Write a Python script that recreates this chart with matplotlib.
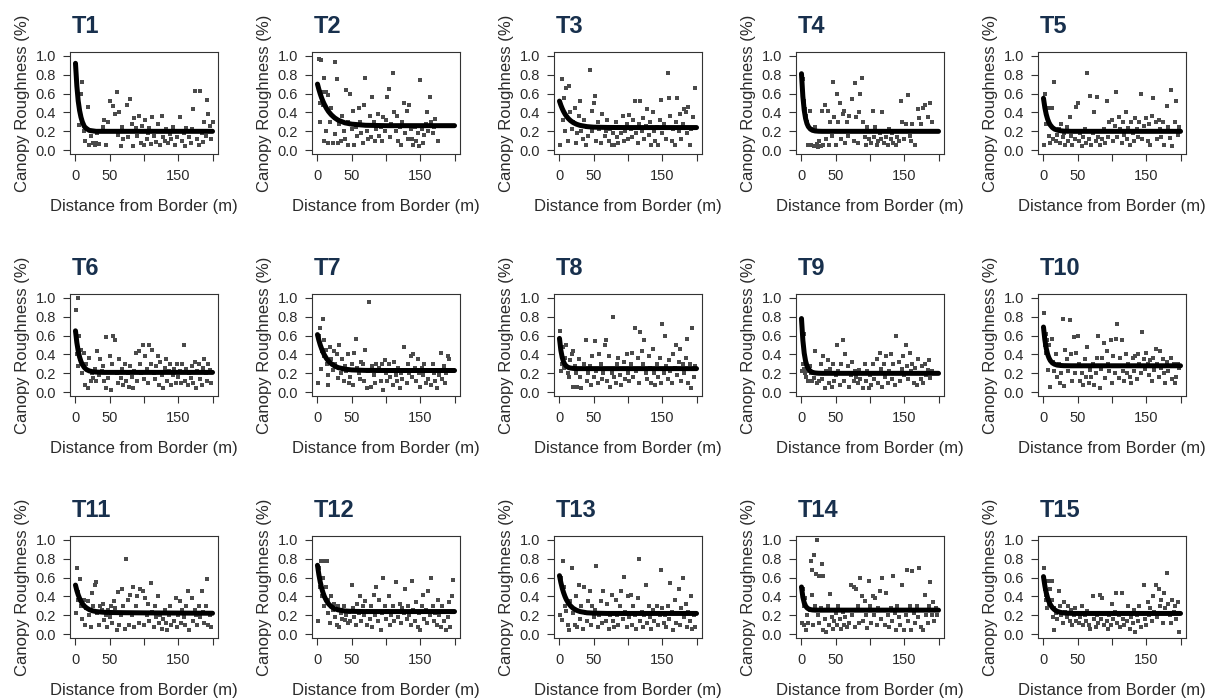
import numpy as np
import matplotlib
matplotlib.use("Agg")
import matplotlib.pyplot as plt

plt.rcParams['font.family'] = ['Liberation Sans', 'DejaVu Sans']

curve_x = [0, 2, 4, 6, 8, 10, 13, 16, 20, 25, 30, 40, 50, 70, 100, 200]

c1 = [0.92, 0.68, 0.52, 0.42, 0.35, 0.30, 0.25, 0.23, 0.21, 0.205, 0.20, 0.20, 0.20, 0.20, 0.20, 0.20]
c2 = [0.70, 0.645, 0.597, 0.555, 0.518, 0.486, 0.445, 0.411, 0.376, 0.343, 0.319, 0.290, 0.276, 0.264, 0.26, 0.26]
c3 = [0.52, 0.477, 0.441, 0.410, 0.384, 0.362, 0.335, 0.314, 0.293, 0.275, 0.263, 0.250, 0.244, 0.241, 0.24, 0.24]
c4 = [0.81, 0.57, 0.424, 0.336, 0.282, 0.25, 0.224, 0.211, 0.204, 0.201, 0.20, 0.20, 0.20, 0.20, 0.20, 0.20]
c5 = [0.55, 0.451, 0.380, 0.329, 0.292, 0.266, 0.240, 0.224, 0.213, 0.206, 0.202, 0.20, 0.20, 0.20, 0.20, 0.20]
c6 = [0.65, 0.525, 0.436, 0.372, 0.326, 0.293, 0.261, 0.240, 0.226, 0.217, 0.213, 0.21, 0.21, 0.21, 0.21, 0.21]
c7 = [0.61, 0.551, 0.502, 0.461, 0.425, 0.395, 0.358, 0.330, 0.302, 0.278, 0.261, 0.244, 0.236, 0.231, 0.23, 0.23]
c8 = [0.57, 0.444, 0.368, 0.321, 0.293, 0.276, 0.262, 0.256, 0.252, 0.25, 0.25, 0.25, 0.25, 0.25, 0.25, 0.25]
c9 = [0.78, 0.552, 0.413, 0.329, 0.278, 0.248, 0.223, 0.210, 0.204, 0.201, 0.20, 0.20, 0.20, 0.20, 0.20, 0.20]
c10 = [0.69, 0.555, 0.464, 0.403, 0.363, 0.335, 0.310, 0.297, 0.287, 0.283, 0.281, 0.28, 0.28, 0.28, 0.28, 0.28]
c11 = [0.52, 0.462, 0.416, 0.379, 0.349, 0.325, 0.298, 0.279, 0.261, 0.248, 0.240, 0.233, 0.230, 0.228, 0.226, 0.222]
c12 = [0.73, 0.632, 0.554, 0.491, 0.441, 0.401, 0.356, 0.323, 0.293, 0.270, 0.258, 0.246, 0.242, 0.24, 0.24, 0.24]
c13 = [0.62, 0.548, 0.488, 0.440, 0.400, 0.367, 0.329, 0.301, 0.274, 0.253, 0.240, 0.227, 0.223, 0.22, 0.22, 0.22]
c14 = [0.50, 0.393, 0.333, 0.299, 0.280, 0.269, 0.261, 0.257, 0.255, 0.255, 0.255, 0.255, 0.255, 0.255, 0.255, 0.255]
c15 = [0.61, 0.513, 0.440, 0.385, 0.344, 0.314, 0.281, 0.260, 0.242, 0.231, 0.225, 0.221, 0.22, 0.22, 0.22, 0.22]

# scatter points (distance m, roughness) per transect
t1 = [(3, 0.53), (5, 0.27), (8, 0.6), (10, 0.72), (12, 0.2), (14, 0.1), (18, 0.46), (20, 0.05), (22, 0.15), (25, 0.08),
      (28, 0.05), (30, 0.08), (32, 0.18), (35, 0.07), (40, 0.25), (42, 0.32), (45, 0.06), (48, 0.3), (50, 0.52), (52, 0.2),
      (55, 0.47), (58, 0.38), (60, 0.62), (62, 0.16), (64, 0.4), (66, 0.04), (68, 0.25), (70, 0.12), (72, 0.2), (75, 0.48),
      (77, 0.14), (80, 0.54), (82, 0.28), (84, 0.04), (86, 0.34), (88, 0.23), (90, 0.15), (92, 0.36), (95, 0.08), (97, 0.26),
      (100, 0.05), (102, 0.32), (104, 0.12), (106, 0.18), (108, 0.24), (110, 0.07), (112, 0.35), (115, 0.15), (118, 0.09),
      (120, 0.28), (122, 0.2), (124, 0.05), (126, 0.36), (128, 0.14), (130, 0.1), (132, 0.22), (135, 0.08), (138, 0.17),
      (140, 0.12), (142, 0.25), (145, 0.06), (148, 0.14), (150, 0.2), (152, 0.35), (155, 0.1), (158, 0.18), (160, 0.04),
      (162, 0.24), (165, 0.14), (168, 0.08), (170, 0.22), (172, 0.44), (175, 0.63), (178, 0.12), (180, 0.05), (182, 0.63),
      (184, 0.18), (186, 0.09), (188, 0.3), (190, 0.15), (192, 0.53), (194, 0.38), (196, 0.26), (198, 0.12), (200, 0.3)]
t2 = [(2, 0.97), (5, 0.95), (3, 0.5), (4, 0.3), (6, 0.62), (8, 0.48), (9, 0.76), (10, 0.1), (12, 0.62), (13, 0.2),
      (15, 0.58), (16, 0.08), (18, 0.3), (20, 0.45), (22, 0.08), (25, 0.93), (26, 0.17), (28, 0.75), (30, 0.08), (32, 0.28),
      (34, 0.1), (36, 0.36), (38, 0.2), (40, 0.12), (42, 0.64), (44, 0.3), (45, 0.05), (48, 0.6), (50, 0.22), (52, 0.42),
      (54, 0.05), (56, 0.25), (58, 0.15), (60, 0.45), (62, 0.3), (64, 0.18), (66, 0.08), (68, 0.48), (70, 0.76), (72, 0.2),
      (74, 0.12), (76, 0.36), (78, 0.14), (80, 0.56), (82, 0.3), (84, 0.1), (86, 0.22), (88, 0.38), (90, 0.15), (92, 0.25),
      (94, 0.1), (96, 0.35), (98, 0.2), (100, 0.32), (102, 0.56), (104, 0.65), (106, 0.14), (108, 0.28), (110, 0.82),
      (112, 0.4), (114, 0.2), (116, 0.36), (118, 0.1), (120, 0.25), (122, 0.06), (124, 0.3), (126, 0.5), (128, 0.18),
      (130, 0.42), (132, 0.12), (134, 0.48), (136, 0.22), (138, 0.12), (140, 0.05), (142, 0.25), (144, 0.1), (146, 0.18),
      (148, 0.04), (150, 0.74), (152, 0.22), (154, 0.08), (156, 0.16), (158, 0.28), (160, 0.4), (162, 0.2), (164, 0.56),
      (166, 0.3), (168, 0.18), (170, 0.25), (172, 0.33), (176, 0.1)]
t3 = [(1, 0.06), (3, 0.75), (5, 0.32), (6, 0.55), (8, 0.2), (10, 0.66), (12, 0.1), (14, 0.68), (16, 0.4), (18, 0.22),
      (20, 0.3), (22, 0.45), (24, 0.08), (26, 0.18), (28, 0.36), (30, 0.52), (32, 0.2), (34, 0.12), (36, 0.32), (38, 0.05),
      (40, 0.25), (42, 0.15), (45, 0.85), (47, 0.42), (48, 0.2), (50, 0.5), (52, 0.57), (54, 0.1), (56, 0.3), (58, 0.22),
      (60, 0.08), (62, 0.38), (64, 0.25), (66, 0.15), (68, 0.2), (70, 0.32), (72, 0.1), (74, 0.22), (76, 0.05), (78, 0.18),
      (80, 0.06), (82, 0.3), (84, 0.14), (86, 0.08), (88, 0.24), (90, 0.18), (92, 0.36), (94, 0.1), (96, 0.2), (98, 0.28),
      (100, 0.12), (102, 0.37), (104, 0.22), (106, 0.14), (108, 0.32), (110, 0.52), (112, 0.18), (114, 0.08), (116, 0.28),
      (118, 0.52), (120, 0.2), (122, 0.34), (124, 0.12), (126, 0.26), (128, 0.44), (130, 0.16), (132, 0.3), (134, 0.06),
      (136, 0.4), (138, 0.2), (140, 0.1), (142, 0.25), (144, 0.05), (146, 0.32), (148, 0.53), (150, 0.18), (152, 0.28),
      (155, 0.12), (158, 0.82), (160, 0.55), (162, 0.36), (164, 0.1), (166, 0.22), (168, 0.06), (170, 0.3), (172, 0.55),
      (174, 0.2), (176, 0.38), (178, 0.12), (180, 0.28), (182, 0.44), (184, 0.4), (186, 0.18), (188, 0.46), (190, 0.06),
      (192, 0.22), (195, 0.35), (198, 0.66)]
t4 = [(2, 0.75), (3, 0.52), (5, 0.44), (6, 0.36), (8, 0.3), (10, 0.05), (12, 0.42), (14, 0.06), (15, 0.22), (18, 0.04),
      (20, 0.25), (22, 0.07), (24, 0.03), (26, 0.1), (28, 0.04), (30, 0.42), (32, 0.06), (34, 0.48), (36, 0.12), (38, 0.42),
      (40, 0.05), (42, 0.3), (44, 0.15), (46, 0.72), (48, 0.35), (50, 0.05), (52, 0.6), (54, 0.3), (56, 0.5), (58, 0.12),
      (60, 0.38), (62, 0.42), (64, 0.08), (66, 0.3), (68, 0.15), (70, 0.36), (72, 0.2), (74, 0.54), (76, 0.1), (78, 0.71),
      (80, 0.35), (82, 0.08), (84, 0.4), (86, 0.6), (88, 0.76), (90, 0.3), (92, 0.14), (94, 0.06), (96, 0.25), (98, 0.12),
      (100, 0.2), (102, 0.08), (104, 0.42), (106, 0.14), (108, 0.25), (110, 0.05), (112, 0.1), (114, 0.18), (116, 0.12),
      (118, 0.4), (120, 0.08), (122, 0.2), (124, 0.14), (126, 0.06), (128, 0.22), (130, 0.12), (132, 0.18), (134, 0.08),
      (136, 0.2), (138, 0.05), (140, 0.14), (142, 0.1), (145, 0.52), (147, 0.3), (150, 0.12), (152, 0.28), (155, 0.58),
      (158, 0.15), (160, 0.1), (162, 0.28), (165, 0.05), (170, 0.44), (172, 0.34), (175, 0.28), (178, 0.45), (180, 0.48),
      (184, 0.35), (188, 0.5), (190, 0.3)]
t5 = [(1, 0.06), (2, 0.6), (4, 0.28), (6, 0.45), (8, 0.15), (10, 0.08), (12, 0.45), (14, 0.12), (16, 0.72), (18, 0.1),
      (20, 0.16), (22, 0.22), (24, 0.08), (26, 0.28), (28, 0.14), (30, 0.18), (32, 0.06), (34, 0.25), (36, 0.1), (38, 0.35),
      (40, 0.15), (42, 0.05), (44, 0.2), (46, 0.12), (48, 0.46), (50, 0.5), (52, 0.1), (54, 0.18), (56, 0.04), (58, 0.14),
      (60, 0.22), (62, 0.08), (64, 0.82), (66, 0.12), (68, 0.57), (70, 0.06), (72, 0.18), (74, 0.4), (76, 0.1), (78, 0.56),
      (80, 0.14), (82, 0.06), (84, 0.2), (86, 0.12), (88, 0.22), (90, 0.08), (92, 0.52), (94, 0.14), (96, 0.3), (98, 0.2),
      (100, 0.32), (102, 0.1), (104, 0.26), (106, 0.62), (108, 0.14), (110, 0.35), (112, 0.22), (114, 0.08), (116, 0.3),
      (118, 0.16), (120, 0.4), (122, 0.12), (124, 0.24), (126, 0.05), (128, 0.3), (130, 0.18), (132, 0.1), (134, 0.34),
      (136, 0.22), (138, 0.14), (140, 0.3), (142, 0.6), (144, 0.12), (146, 0.26), (148, 0.2), (150, 0.34), (152, 0.1),
      (154, 0.28), (156, 0.05), (158, 0.36), (160, 0.55), (162, 0.2), (164, 0.3), (166, 0.12), (168, 0.32), (170, 0.22),
      (172, 0.14), (174, 0.3), (176, 0.06), (178, 0.2), (180, 0.47), (182, 0.25), (184, 0.13), (186, 0.64), (188, 0.04),
      (190, 0.2), (192, 0.3), (194, 0.52), (196, 0.16), (198, 0.25)]
t6 = [(1, 0.87), (2, 0.4), (3, 1.0), (4, 0.28), (5, 0.6), (6, 0.35), (8, 0.45), (10, 0.2), (12, 0.42), (14, 0.08),
      (15, 0.3), (18, 0.04), (20, 0.36), (22, 0.12), (24, 0.2), (26, 0.15), (28, 0.25), (30, 0.12), (32, 0.44), (34, 0.18),
      (36, 0.35), (38, 0.22), (40, 0.28), (42, 0.12), (44, 0.04), (45, 0.58), (48, 0.15), (50, 0.38), (52, 0.02), (54, 0.3),
      (55, 0.6), (58, 0.55), (60, 0.2), (62, 0.1), (64, 0.35), (66, 0.15), (68, 0.25), (70, 0.08), (72, 0.3), (74, 0.12),
      (76, 0.2), (78, 0.06), (80, 0.28), (82, 0.16), (84, 0.05), (86, 0.22), (88, 0.42), (90, 0.12), (92, 0.44), (94, 0.3),
      (96, 0.2), (98, 0.5), (100, 0.14), (102, 0.38), (104, 0.25), (106, 0.1), (108, 0.5), (110, 0.3), (112, 0.45),
      (114, 0.2), (116, 0.14), (118, 0.28), (120, 0.38), (122, 0.08), (124, 0.32), (126, 0.18), (128, 0.04), (130, 0.26),
      (132, 0.35), (134, 0.12), (136, 0.22), (138, 0.3), (140, 0.08), (142, 0.18), (144, 0.25), (146, 0.1), (148, 0.3),
      (150, 0.16), (152, 0.22), (154, 0.1), (156, 0.3), (158, 0.5), (160, 0.12), (162, 0.25), (164, 0.08), (166, 0.2),
      (168, 0.15), (170, 0.28), (172, 0.1), (174, 0.32), (176, 0.05), (178, 0.22), (180, 0.3), (182, 0.14), (184, 0.08),
      (186, 0.26), (188, 0.35), (190, 0.2), (192, 0.12), (194, 0.3), (196, 0.24), (198, 0.1)]
t7 = [(1, 0.1), (2, 0.6), (4, 0.68), (5, 0.25), (6, 0.44), (8, 0.78), (9, 0.55), (10, 0.38), (12, 0.45), (14, 0.3),
      (15, 0.08), (16, 0.18), (18, 0.48), (20, 0.35), (22, 0.24), (24, 0.44), (26, 0.3), (28, 0.4), (30, 0.15), (32, 0.5),
      (34, 0.2), (36, 0.35), (38, 0.12), (40, 0.28), (42, 0.22), (44, 0.4), (46, 0.1), (48, 0.16), (50, 0.3), (52, 0.08),
      (54, 0.42), (56, 0.56), (58, 0.26), (60, 0.2), (62, 0.14), (64, 0.32), (66, 0.3), (68, 0.12), (70, 0.45), (72, 0.04),
      (74, 0.22), (75, 0.96), (78, 0.06), (80, 0.28), (82, 0.18), (84, 0.1), (86, 0.3), (88, 0.22), (90, 0.26), (92, 0.12),
      (94, 0.3), (96, 0.02), (98, 0.34), (100, 0.2), (102, 0.12), (104, 0.3), (106, 0.16), (108, 0.22), (110, 0.08),
      (112, 0.32), (114, 0.18), (116, 0.12), (118, 0.26), (120, 0.04), (122, 0.2), (124, 0.14), (126, 0.48), (128, 0.24),
      (130, 0.1), (132, 0.3), (134, 0.2), (136, 0.38), (138, 0.16), (140, 0.4), (142, 0.26), (144, 0.12), (146, 0.35),
      (148, 0.2), (150, 0.06), (152, 0.26), (154, 0.18), (156, 0.3), (158, 0.1), (160, 0.22), (162, 0.14), (164, 0.24),
      (166, 0.08), (168, 0.3), (170, 0.2), (172, 0.12), (174, 0.04), (176, 0.22), (178, 0.18), (180, 0.42), (182, 0.14),
      (184, 0.28), (186, 0.1), (188, 0.2), (190, 0.38), (192, 0.35), (194, 0.22)]
t8 = [(1, 0.65), (2, 0.22), (4, 0.3), (5, 0.48), (6, 0.26), (8, 0.36), (10, 0.5), (12, 0.2), (14, 0.16), (16, 0.34),
      (18, 0.4), (19, 0.44), (20, 0.06), (22, 0.28), (24, 0.2), (26, 0.06), (28, 0.35), (30, 0.16), (32, 0.05), (34, 0.25),
      (36, 0.3), (38, 0.55), (40, 0.12), (42, 0.2), (44, 0.28), (46, 0.08), (48, 0.38), (50, 0.16), (52, 0.54), (54, 0.22),
      (56, 0.1), (58, 0.4), (60, 0.3), (62, 0.14), (64, 0.2), (66, 0.5), (68, 0.55), (70, 0.12), (72, 0.38), (74, 0.06),
      (76, 0.2), (78, 0.8), (80, 0.16), (82, 0.1), (84, 0.3), (86, 0.36), (88, 0.18), (90, 0.08), (92, 0.25), (94, 0.32),
      (96, 0.14), (98, 0.4), (100, 0.2), (102, 0.12), (104, 0.3), (106, 0.42), (108, 0.16), (110, 0.68), (112, 0.22),
      (114, 0.36), (116, 0.1), (118, 0.64), (120, 0.44), (122, 0.3), (124, 0.55), (126, 0.2), (128, 0.14), (130, 0.38),
      (132, 0.26), (134, 0.1), (136, 0.46), (138, 0.2), (140, 0.08), (142, 0.3), (144, 0.16), (146, 0.36), (148, 0.1),
      (150, 0.72), (152, 0.2), (154, 0.6), (156, 0.28), (158, 0.14), (160, 0.34), (162, 0.22), (164, 0.1), (166, 0.4),
      (168, 0.26), (170, 0.5), (172, 0.18), (174, 0.32), (176, 0.46), (178, 0.12), (180, 0.3), (182, 0.2), (184, 0.36),
      (186, 0.56), (188, 0.1), (190, 0.3), (192, 0.05), (194, 0.68), (196, 0.16), (198, 0.28)]
t9 = [(1, 0.22), (2, 0.3), (3, 0.62), (4, 0.25), (5, 0.2), (6, 0.16), (8, 0.22), (10, 0.12), (12, 0.28), (14, 0.2),
      (16, 0.12), (18, 0.15), (20, 0.44), (22, 0.1), (24, 0.2), (26, 0.12), (28, 0.3), (30, 0.14), (32, 0.38), (34, 0.05),
      (36, 0.22), (38, 0.34), (40, 0.1), (42, 0.25), (44, 0.06), (46, 0.3), (48, 0.12), (50, 0.18), (52, 0.5), (54, 0.22),
      (56, 0.08), (58, 0.3), (60, 0.55), (62, 0.12), (64, 0.4), (66, 0.2), (68, 0.28), (70, 0.06), (72, 0.18), (74, 0.32),
      (76, 0.12), (78, 0.22), (80, 0.16), (82, 0.1), (84, 0.24), (86, 0.14), (88, 0.2), (90, 0.05), (92, 0.3), (94, 0.12),
      (96, 0.22), (98, 0.04), (100, 0.18), (102, 0.08), (104, 0.3), (106, 0.14), (108, 0.2), (110, 0.35), (112, 0.1),
      (114, 0.42), (116, 0.25), (118, 0.06), (120, 0.3), (122, 0.16), (124, 0.38), (126, 0.1), (128, 0.22), (130, 0.4),
      (132, 0.14), (134, 0.3), (136, 0.08), (138, 0.6), (140, 0.2), (142, 0.32), (144, 0.12), (146, 0.25), (148, 0.38),
      (150, 0.18), (152, 0.5), (154, 0.28), (156, 0.14), (158, 0.42), (160, 0.22), (162, 0.3), (164, 0.1), (166, 0.26),
      (168, 0.08), (170, 0.35), (172, 0.2), (174, 0.14), (176, 0.28), (178, 0.1), (180, 0.3), (182, 0.18), (184, 0.24),
      (186, 0.34), (188, 0.15), (190, 0.22)]
t10 = [(1, 0.84), (2, 0.5), (3, 0.62), (4, 0.42), (5, 0.55), (6, 0.24), (8, 0.5), (10, 0.06), (12, 0.56), (14, 0.32),
       (16, 0.22), (18, 0.4), (20, 0.16), (22, 0.3), (24, 0.1), (26, 0.2), (28, 0.78), (30, 0.07), (32, 0.45), (34, 0.35),
       (36, 0.22), (38, 0.77), (40, 0.4), (42, 0.12), (44, 0.58), (46, 0.2), (48, 0.42), (50, 0.6), (52, 0.3), (54, 0.12),
       (56, 0.2), (58, 0.08), (60, 0.35), (62, 0.16), (64, 0.48), (66, 0.1), (68, 0.24), (70, 0.16), (72, 0.3), (74, 0.08),
       (76, 0.2), (78, 0.36), (80, 0.6), (82, 0.04), (84, 0.25), (86, 0.36), (88, 0.52), (90, 0.15), (92, 0.44), (94, 0.3),
       (96, 0.22), (98, 0.55), (100, 0.1), (102, 0.38), (104, 0.2), (106, 0.56), (108, 0.72), (110, 0.15), (112, 0.36),
       (114, 0.55), (116, 0.22), (118, 0.12), (120, 0.4), (122, 0.2), (124, 0.3), (126, 0.16), (128, 0.1), (130, 0.36),
       (132, 0.22), (134, 0.38), (136, 0.14), (138, 0.4), (140, 0.3), (142, 0.2), (144, 0.64), (146, 0.35), (148, 0.25),
       (150, 0.42), (152, 0.3), (154, 0.18), (156, 0.34), (158, 0.12), (160, 0.36), (162, 0.24), (164, 0.46), (166, 0.3),
       (168, 0.16), (170, 0.44), (172, 0.26), (174, 0.35), (176, 0.2), (178, 0.1), (180, 0.32), (182, 0.22), (184, 0.28),
       (186, 0.36), (188, 0.14), (190, 0.3), (192, 0.1), (194, 0.16), (196, 0.3), (198, 0.26)]
t11 = [(1, 0.22), (2, 0.7), (3, 0.45), (4, 0.36), (6, 0.58), (8, 0.3), (10, 0.16), (12, 0.36), (14, 0.1), (16, 0.28),
       (18, 0.35), (20, 0.2), (22, 0.08), (24, 0.44), (26, 0.3), (28, 0.52), (30, 0.55), (32, 0.22), (34, 0.1), (36, 0.3),
       (38, 0.26), (40, 0.32), (42, 0.15), (44, 0.2), (46, 0.08), (48, 0.26), (50, 0.18), (52, 0.3), (54, 0.12), (56, 0.35),
       (58, 0.28), (60, 0.04), (62, 0.45), (64, 0.1), (66, 0.2), (68, 0.48), (70, 0.3), (72, 0.06), (74, 0.8), (76, 0.36),
       (78, 0.1), (80, 0.42), (82, 0.2), (84, 0.5), (86, 0.08), (88, 0.3), (90, 0.4), (92, 0.12), (94, 0.48), (96, 0.22),
       (98, 0.46), (100, 0.1), (102, 0.38), (104, 0.2), (106, 0.32), (108, 0.14), (110, 0.54), (112, 0.24), (114, 0.08),
       (116, 0.3), (118, 0.18), (120, 0.4), (122, 0.12), (124, 0.2), (126, 0.06), (128, 0.16), (130, 0.26), (132, 0.12),
       (134, 0.04), (136, 0.2), (138, 0.3), (140, 0.1), (142, 0.22), (144, 0.14), (146, 0.38), (148, 0.08), (150, 0.2),
       (152, 0.35), (154, 0.12), (156, 0.26), (158, 0.18), (160, 0.1), (162, 0.3), (164, 0.46), (166, 0.05), (168, 0.22),
       (170, 0.38), (172, 0.14), (174, 0.26), (176, 0.2), (178, 0.1), (180, 0.3), (182, 0.18), (184, 0.46), (186, 0.24),
       (188, 0.12), (190, 0.3), (192, 0.58), (194, 0.1), (196, 0.2), (198, 0.08)]
t12 = [(1, 0.14), (2, 0.7), (3, 0.5), (4, 0.58), (5, 0.78), (6, 0.4), (8, 0.6), (9, 0.78), (10, 0.3), (12, 0.5),
       (14, 0.78), (15, 0.36), (16, 0.22), (18, 0.12), (20, 0.4), (22, 0.26), (24, 0.32), (26, 0.18), (28, 0.1), (30, 0.3),
       (32, 0.08), (34, 0.22), (36, 0.16), (38, 0.3), (40, 0.15), (42, 0.2), (44, 0.12), (46, 0.24), (48, 0.14), (50, 0.52),
       (52, 0.28), (54, 0.18), (56, 0.1), (58, 0.32), (60, 0.22), (62, 0.4), (64, 0.14), (66, 0.3), (68, 0.2), (70, 0.35),
       (72, 0.1), (74, 0.25), (76, 0.16), (78, 0.3), (80, 0.08), (82, 0.42), (84, 0.2), (86, 0.5), (88, 0.14), (90, 0.36),
       (92, 0.04), (94, 0.22), (96, 0.6), (98, 0.3), (100, 0.16), (102, 0.25), (104, 0.4), (106, 0.1), (108, 0.2),
       (110, 0.3), (112, 0.14), (114, 0.55), (116, 0.24), (118, 0.18), (120, 0.32), (122, 0.12), (124, 0.28), (126, 0.22),
       (128, 0.48), (130, 0.16), (132, 0.3), (134, 0.2), (136, 0.1), (138, 0.56), (140, 0.26), (142, 0.14), (144, 0.34),
       (146, 0.08), (148, 0.22), (150, 0.04), (152, 0.3), (154, 0.42), (156, 0.16), (158, 0.26), (160, 0.12), (162, 0.46),
       (164, 0.2), (166, 0.6), (168, 0.3), (170, 0.14), (172, 0.22), (174, 0.1), (176, 0.36), (178, 0.2), (180, 0.08),
       (182, 0.3), (184, 0.14), (186, 0.24), (188, 0.05), (190, 0.18), (192, 0.34), (194, 0.08), (196, 0.4), (198, 0.57)]
t13 = [(1, 0.2), (2, 0.6), (4, 0.15), (5, 0.78), (6, 0.5), (8, 0.3), (10, 0.25), (12, 0.1), (14, 0.05), (16, 0.35),
       (18, 0.7), (20, 0.22), (22, 0.1), (24, 0.4), (26, 0.08), (28, 0.52), (30, 0.16), (32, 0.3), (34, 0.06), (36, 0.5),
       (38, 0.22), (40, 0.14), (42, 0.35), (44, 0.46), (46, 0.1), (48, 0.3), (50, 0.18), (52, 0.26), (54, 0.72), (56, 0.08),
       (58, 0.2), (60, 0.35), (62, 0.12), (64, 0.46), (66, 0.22), (68, 0.14), (70, 0.32), (72, 0.06), (74, 0.2), (76, 0.42),
       (78, 0.14), (80, 0.08), (82, 0.36), (84, 0.2), (86, 0.1), (88, 0.3), (90, 0.46), (92, 0.16), (94, 0.61), (96, 0.24),
       (98, 0.08), (100, 0.4), (102, 0.18), (104, 0.42), (106, 0.1), (108, 0.3), (110, 0.2), (112, 0.06), (114, 0.38),
       (116, 0.8), (118, 0.14), (120, 0.24), (122, 0.08), (124, 0.2), (126, 0.52), (128, 0.12), (130, 0.3), (132, 0.18),
       (134, 0.06), (136, 0.26), (138, 0.14), (140, 0.22), (142, 0.3), (144, 0.1), (146, 0.2), (148, 0.68), (150, 0.28),
       (152, 0.12), (154, 0.2), (156, 0.08), (158, 0.3), (160, 0.16), (162, 0.54), (164, 0.24), (166, 0.05), (168, 0.36),
       (170, 0.12), (172, 0.22), (174, 0.48), (176, 0.1), (178, 0.28), (180, 0.6), (182, 0.18), (184, 0.32), (186, 0.08),
       (188, 0.24), (190, 0.14), (192, 0.4), (194, 0.06), (196, 0.2), (198, 0.08)]
t14 = [(1, 0.12), (2, 0.48), (3, 0.3), (4, 0.1), (5, 0.38), (6, 0.05), (8, 0.2), (10, 0.12), (12, 0.26), (14, 0.78),
       (15, 0.68), (16, 0.42), (17, 0.1), (18, 0.84), (20, 0.3), (21, 0.64), (22, 1.0), (24, 0.2), (25, 0.62), (26, 0.12),
       (28, 0.28), (30, 0.74), (31, 0.05), (32, 0.62), (34, 0.16), (36, 0.02), (38, 0.3), (40, 0.1), (42, 0.43), (44, 0.18),
       (46, 0.06), (48, 0.14), (50, 0.22), (52, 0.1), (54, 0.3), (56, 0.16), (58, 0.06), (60, 0.24), (62, 0.1), (64, 0.18),
       (66, 0.08), (68, 0.26), (70, 0.12), (72, 0.52), (74, 0.2), (76, 0.5), (78, 0.08), (80, 0.48), (82, 0.3), (84, 0.12),
       (86, 0.6), (88, 0.4), (90, 0.14), (92, 0.35), (94, 0.2), (96, 0.07), (98, 0.56), (100, 0.3), (102, 0.12), (104, 0.4),
       (106, 0.2), (108, 0.38), (110, 0.1), (112, 0.28), (114, 0.46), (116, 0.16), (118, 0.6), (120, 0.26), (122, 0.1),
       (124, 0.44), (126, 0.2), (128, 0.08), (130, 0.28), (132, 0.14), (134, 0.62), (136, 0.22), (138, 0.05), (140, 0.3),
       (142, 0.18), (144, 0.1), (146, 0.52), (148, 0.26), (150, 0.04), (152, 0.2), (154, 0.68), (156, 0.14), (158, 0.3),
       (160, 0.04), (162, 0.67), (164, 0.22), (166, 0.12), (168, 0.3), (170, 0.18), (172, 0.7), (174, 0.08), (176, 0.26),
       (178, 0.04), (180, 0.42), (182, 0.2), (184, 0.12), (186, 0.3), (188, 0.55), (190, 0.2), (192, 0.34), (194, 0.14),
       (196, 0.28), (198, 0.2)]
t15 = [(1, 0.7), (2, 0.48), (3, 0.36), (4, 0.42), (5, 0.28), (6, 0.56), (8, 0.32), (10, 0.48), (12, 0.36), (13, 0.56),
       (14, 0.18), (15, 0.04), (16, 0.28), (18, 0.22), (20, 0.16), (22, 0.46), (24, 0.3), (26, 0.2), (28, 0.12), (30, 0.34),
       (32, 0.24), (34, 0.18), (36, 0.3), (38, 0.14), (40, 0.26), (42, 0.1), (44, 0.2), (46, 0.28), (48, 0.14), (50, 0.22),
       (52, 0.12), (54, 0.18), (56, 0.3), (58, 0.1), (60, 0.2), (62, 0.14), (64, 0.25), (66, 0.1), (68, 0.06), (70, 0.22),
       (72, 0.4), (74, 0.16), (76, 0.08), (78, 0.2), (80, 0.12), (82, 0.42), (84, 0.16), (86, 0.38), (88, 0.1), (90, 0.22),
       (92, 0.14), (94, 0.06), (96, 0.2), (98, 0.1), (100, 0.32), (102, 0.16), (104, 0.24), (106, 0.44), (108, 0.12),
       (110, 0.2), (112, 0.08), (114, 0.44), (116, 0.16), (118, 0.1), (120, 0.22), (122, 0.14), (124, 0.3), (126, 0.06),
       (128, 0.18), (130, 0.12), (132, 0.26), (134, 0.02), (136, 0.2), (138, 0.14), (140, 0.3), (142, 0.08), (144, 0.22),
       (146, 0.52), (148, 0.16), (150, 0.1), (152, 0.34), (154, 0.2), (156, 0.28), (158, 0.14), (160, 0.4), (162, 0.24),
       (164, 0.52), (166, 0.18), (168, 0.48), (170, 0.3), (172, 0.36), (174, 0.12), (176, 0.44), (178, 0.28), (180, 0.65),
       (182, 0.32), (184, 0.2), (186, 0.12), (188, 0.36), (190, 0.24), (192, 0.3), (194, 0.16), (196, 0.34), (198, 0.02)]

titles = ["T%d" % i for i in range(1, 16)]
points = [t1, t2, t3, t4, t5, t6, t7, t8, t9, t10, t11, t12, t13, t14, t15]
curves = [c1, c2, c3, c4, c5, c6, c7, c8, c9, c10, c11, c12, c13, c14, c15]

x_ticks = [0, 50, 100, 150, 200]
x_tick_labels = ["0", "50", "", "150", ""]
y_ticks = [0.0, 0.2, 0.4, 0.6, 0.8, 1.0]

W, H = 1220, 699
fig = plt.figure(figsize=(W / 100, H / 100), dpi=100)
txt = "#2b2b2b"

for i, (title, pts, cv) in enumerate(zip(titles, points, curves)):
    row, col = divmod(i, 5)
    left_px = 70 + col * 242
    top_px = 52 + row * 242
    ax = fig.add_axes([left_px / W, 1 - (top_px + 102) / H, 148 / W, 102 / H])

    pts = np.array(pts)
    ax.scatter(pts[:, 0], pts[:, 1], s=7, marker="s", color="#4a4a4a", linewidths=0, zorder=2)
    ax.plot(curve_x, cv, color="black", lw=3.6, solid_capstyle="round", zorder=3)

    ax.set_xlim(-8, 208)
    ax.set_ylim(-0.04, 1.04)
    ax.set_xticks(x_ticks)
    ax.set_xticklabels(x_tick_labels)
    ax.set_yticks(y_ticks)
    ax.set_yticklabels(["%.1f" % v for v in y_ticks])
    ax.tick_params(direction="out", length=5, width=0.8, colors="#333333",
                   labelcolor=txt, labelsize=10.5)
    ax.tick_params(axis="x", pad=6)
    ax.tick_params(axis="y", pad=5)
    for sp in ax.spines.values():
        sp.set_linewidth(0.8)
        sp.set_color("#333333")

    ax.set_xlabel("Distance from Border (m)", fontsize=12, color=txt)
    ax.set_ylabel("Canopy Roughness (%)", fontsize=12, color=txt)
    ax.xaxis.set_label_coords(0.5, -0.44)
    ax.yaxis.set_label_coords(-0.27, 0.5)

    ax.text(0.01, 1.19, title, transform=ax.transAxes, ha="left", va="baseline",
            fontsize=17, fontweight="bold", color="#18304d")

fig.savefig("out.png", dpi=100)
